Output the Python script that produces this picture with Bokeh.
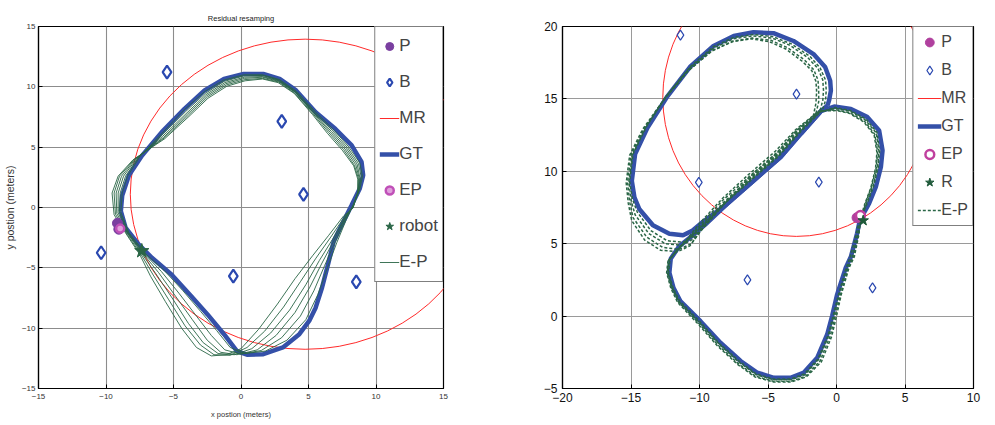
from bokeh.plotting import figure
from bokeh.layouts import row
from bokeh.models import Range1d, Legend, LegendItem, FixedTicker
from bokeh.embed import file_html
from bokeh.resources import INLINE

NAN = float("nan")

# ---------------- LEFT PANEL DATA ----------------
L_TICKS = [-15, -10, -5, 0, 5, 10, 15]
L_GT_X = [-8.9, -8.8, -8.3, -7.33, -5.87, -4.17, -2.7, -1.26, 0.2, 1.65, 2.86, 4.08, 5.53, 7.0, 8.2, 8.93, 9.05, 8.8, 8.2, 7.72,
          7.23, 6.87, 6.63, 6.38, 6.0, 5.53, 5.05, 4.32, 3.1, 1.65, 0.44, -0.3, -1.26, -2.48, -3.7, -5.15, -6.6, -7.57, -8.54, -8.9]
L_GT_Y = [-0.3, 1.0, 2.67, 4.3, 6.25, 8.2, 9.7, 10.66, 11.07, 11.07, 10.66, 9.7, 7.9, 6.5, 5.15, 3.77, 2.67, 1.57, 0.2, -0.87,
          -1.97, -2.8, -3.9, -5.0, -6.65, -8.3, -9.4, -10.5, -11.6, -12.16, -12.2, -11.9, -10.5, -8.86, -7.34, -5.55, -4.17, -3.07, -1.7, -0.3]

L_EP_X = [
    [-8.9, -8.8, -8.4, -7.5, -5.9, -4.2, -2.7, -1.3, 0.2, 1.6, 2.85, 4.1, 5.5, 6.9, 8.0, 8.8, 9.0, 8.8, 8.3, 7.8,
     7.1, 6.4, 5.7, 4.8, 3.4, 1.8, 0.3, -0.8, -1.8, -3.0, -4.3, -5.7, -7.0, -8.3, -8.9],
    [-9.0, -8.95, -8.55, -7.6, -5.85, -4.1, -2.65, -1.25, 0.2, 1.6, 2.85, 4.05, 5.45, 6.8, 7.9, 8.7, 8.9, 8.75, 8.3, 7.75,
     7.0, 6.2, 5.4, 4.4, 3.0, 1.5, 0.0, -1.2, -2.2, -3.3, -4.6, -5.9, -7.1, -8.35, -9.0],
    [-9.1, -9.1, -8.7, -7.7, -5.8, -4.0, -2.6, -1.2, 0.25, 1.6, 2.8, 4.0, 5.4, 6.7, 7.8, 8.6, 8.8, 8.7, 8.3, 7.7,
     6.9, 6.0, 5.1, 4.0, 2.6, 1.2, -0.3, -1.5, -2.5, -3.6, -4.85, -6.1, -7.2, -8.4, -9.1],
    [-9.2, -9.25, -8.85, -7.8, -5.75, -3.95, -2.55, -1.15, 0.25, 1.6, 2.8, 4.0, 5.4, 6.6, 7.7, 8.5, 8.75, 8.7, 8.3, 7.7,
     6.8, 5.8, 4.8, 3.6, 2.2, 0.8, -0.5, -1.7, -2.8, -3.9, -5.1, -6.3, -7.3, -8.4, -9.2],
    [-9.3, -9.4, -9.0, -7.9, -5.7, -3.9, -2.5, -1.1, 0.3, 1.6, 2.8, 3.95, 5.35, 6.5, 7.6, 8.4, 8.7, 8.65, 8.3, 7.65,
     6.65, 5.55, 4.4, 3.15, 1.75, 0.45, -0.8, -2.0, -3.0, -4.15, -5.35, -6.5, -7.4, -8.45, -9.3],
    [-9.4, -9.55, -9.1, -8.0, -5.65, -3.85, -2.45, -1.05, 0.3, 1.6, 2.75, 3.95, 5.3, 6.4, 7.5, 8.35, 8.65, 8.65, 8.3, 7.6,
     6.5, 5.3, 4.0, 2.7, 1.3, 0.0, -1.1, -2.2, -3.3, -4.4, -5.6, -6.7, -7.5, -8.5, -9.4],
]
L_EP_Y = [
    [-0.4, 1.2, 2.6, 4.2, 6.1, 8.1, 9.6, 10.55, 11.0, 11.0, 10.6, 9.65, 7.95, 6.4, 5.0, 3.7, 2.6, 1.5, 0.2, -1.0,
     -2.9, -5.0, -7.2, -9.3, -11.0, -11.9, -12.1, -11.6, -10.2, -8.6, -6.9, -5.2, -3.9, -2.1, -0.4],
    [-0.4, 1.2, 2.6, 4.15, 6.0, 7.95, 9.45, 10.45, 10.9, 10.95, 10.55, 9.6, 7.9, 6.35, 4.95, 3.65, 2.55, 1.45, 0.15, -0.95,
     -2.8, -4.8, -6.9, -9.0, -10.8, -11.85, -12.15, -11.8, -10.6, -9.0, -7.1, -5.3, -3.9, -2.1, -0.4],
    [-0.45, 1.2, 2.6, 4.1, 5.9, 7.85, 9.35, 10.35, 10.8, 10.85, 10.5, 9.6, 7.85, 6.3, 4.9, 3.6, 2.5, 1.4, 0.1, -0.9,
     -2.7, -4.6, -6.6, -8.7, -10.6, -11.8, -12.2, -12.0, -11.0, -9.3, -7.35, -5.4, -3.9, -2.1, -0.45],
    [-0.5, 1.2, 2.6, 4.05, 5.8, 7.75, 9.25, 10.25, 10.7, 10.8, 10.45, 9.55, 7.8, 6.25, 4.85, 3.55, 2.45, 1.35, 0.05, -0.85,
     -2.6, -4.4, -6.4, -8.5, -10.4, -11.7, -12.2, -12.1, -11.2, -9.6, -7.5, -5.5, -3.9, -2.15, -0.5],
    [-0.55, 1.2, 2.6, 4.0, 5.75, 7.65, 9.15, 10.15, 10.6, 10.7, 10.4, 9.5, 7.75, 6.2, 4.8, 3.5, 2.4, 1.3, 0.0, -0.8,
     -2.45, -4.2, -6.15, -8.25, -10.25, -11.6, -12.25, -12.2, -11.4, -9.8, -7.65, -5.6, -3.9, -2.2, -0.55],
    [-0.6, 1.2, 2.6, 3.95, 5.7, 7.55, 9.05, 10.05, 10.5, 10.65, 10.35, 9.45, 7.7, 6.15, 4.75, 3.45, 2.35, 1.25, -0.05, -0.7,
     -2.3, -4.0, -5.9, -8.0, -10.1, -11.7, -12.2, -12.3, -11.6, -10.0, -7.8, -5.7, -3.9, -2.2, -0.6],
]
L_B_X = [-5.48, 3.02, 4.63, -10.36, -0.57, 8.54]
L_B_Y = [11.22, 7.14, 1.08, -3.75, -5.68, -6.17]
L_P_X = [-9.15, -9.05]
L_P_Y = [-1.3, -1.8]
L_EPT_X = [-8.95]
L_EPT_Y = [-1.75]
L_ROBOT_X = [-7.35]
L_ROBOT_Y = [-3.6]
L_MR_CX, L_MR_CY, L_MR_W, L_MR_H = 4.75, 1.1, 25.9, 25.7

# ---------------- RIGHT PANEL DATA ----------------
R_XTICKS = [-20, -15, -10, -5, 0, 5, 10]
R_YTICKS = [-5, 0, 5, 10, 15, 20]
R_GT_A_X = [1.7, 1.5, 1.05, 0.66, 0.05, -0.32, -0.68, -1.41, -2.38, -3.36, -4.57, -5.8, -7.0, -8.47, -9.93, -11.4, -11.9, -12.2,
            -12.1, -11.5, -10.6, -9.6, -8.0, -6.06, -4.06, -2.6, -1.14, -0.17, 1.05, 2.26, 3.11, 3.36, 3.24, 2.87, 2.38, 1.7]
R_GT_A_Y = [6.6, 5.7, 4.1, 3.3, 1.5, 0.0, -1.27, -2.88, -3.9, -4.26, -4.26, -3.9, -3.1, -1.84, -0.35, 1.04, 1.96, 3.0,
            3.96, 4.8, 5.5, 6.3, 7.73, 9.34, 11.0, 12.6, 14.15, 14.47, 14.3, 13.74, 12.82, 11.44, 10.3, 8.92, 7.78, 6.6]
R_GT_B_X = [-0.66, -0.54, -0.41, -0.46, -0.83, -1.68, -3.14, -4.6, -6.06, -7.5, -8.98, -10.7, -12.4, -13.8, -14.7,
            -14.94, -14.75, -14.4, -13.4, -12.2, -11.2, -10.5, -9.77, -8.0, -6.06, -4.06, -2.6, -1.14, -0.66]
R_GT_B_Y = [14.54, 14.9, 15.57, 16.25, 17.2, 18.1, 19.0, 19.54, 19.6, 19.35, 18.66, 17.2, 15.1, 13.0, 11.2,
            9.34, 8.2, 7.4, 6.27, 5.69, 5.58, 5.92, 6.5, 7.73, 9.34, 11.0, 12.6, 14.15, 14.54]

R_EP_A_X = [
    [1.75, 1.55, 1.15, 0.75, 0.2, -0.2, -0.55, -1.3, -2.3, -3.3, -4.6, -5.85, -7.1, -8.6, -10.05, -11.5, -12.0, -12.3,
     -12.2, -11.6, -10.8, -9.8, -8.2, -6.25, -4.25, -2.75, -1.2, -0.1, 1.0, 2.1, 2.9, 3.1, 3.0, 2.65, 2.2, 1.75],
    [1.8, 1.6, 1.25, 0.85, 0.3, -0.1, -0.45, -1.2, -2.25, -3.3, -4.6, -5.9, -7.15, -8.65, -10.1, -11.55, -12.05, -12.35,
     -12.25, -11.65, -10.9, -9.9, -8.3, -6.35, -4.35, -2.85, -1.25, -0.05, 0.95, 2.05, 2.8, 3.0, 2.9, 2.55, 2.1, 1.8],
    [1.65, 1.45, 1.0, 0.7, 0.15, -0.25, -0.6, -1.35, -2.35, -3.35, -4.6, -5.85, -7.05, -8.55, -10.0, -11.45, -11.95, -12.25,
     -12.15, -11.55, -10.7, -9.7, -8.1, -6.15, -4.15, -2.7, -1.2, -0.1, 1.0, 2.15, 2.95, 3.15, 3.05, 2.7, 2.25, 1.65],
    [1.7, 1.65, 1.3, 0.9, 0.35, 0.0, -0.35, -1.1, -2.2, -3.3, -4.6, -5.95, -7.2, -8.7, -10.15, -11.6, -12.1, -12.4,
     -12.3, -11.7, -11.0, -10.0, -8.35, -6.45, -4.45, -2.95, -1.3, 0.0, 0.95, 2.0, 2.75, 2.95, 2.85, 2.5, 2.05, 1.7],
]
R_EP_A_Y = [
    [6.6, 5.7, 4.1, 3.3, 1.5, 0.0, -1.3, -3.0, -4.05, -4.4, -4.4, -4.05, -3.2, -1.9, -0.4, 1.0, 2.0, 3.0,
     3.9, 4.6, 5.3, 6.3, 7.9, 9.55, 11.2, 12.75, 14.1, 14.35, 14.15, 13.55, 12.65, 11.4, 10.3, 8.95, 7.8, 6.6],
    [6.6, 5.7, 4.1, 3.3, 1.5, 0.0, -1.35, -3.1, -4.15, -4.5, -4.5, -4.15, -3.3, -2.0, -0.45, 1.0, 2.0, 3.0,
     3.85, 4.5, 5.25, 6.35, 8.0, 9.65, 11.3, 12.85, 14.15, 14.25, 14.05, 13.45, 12.55, 11.35, 10.25, 8.9, 7.75, 6.6],
    [6.6, 5.7, 4.1, 3.3, 1.5, 0.0, -1.3, -2.95, -4.0, -4.35, -4.35, -4.0, -3.15, -1.9, -0.35, 1.05, 2.0, 3.0,
     3.95, 4.7, 5.4, 6.3, 7.85, 9.5, 11.15, 12.7, 14.1, 14.4, 14.2, 13.6, 12.7, 11.4, 10.3, 8.95, 7.8, 6.6],
    [6.6, 5.7, 4.1, 3.3, 1.5, 0.0, -1.4, -3.15, -4.2, -4.55, -4.55, -4.2, -3.35, -2.05, -0.5, 0.95, 1.95, 3.0,
     3.8, 4.45, 5.2, 6.4, 8.1, 9.75, 11.4, 12.9, 14.15, 14.2, 14.0, 13.4, 12.5, 11.3, 10.2, 8.85, 7.7, 6.6],
]
R_EP_B_X = [
    [-1.2, -1.0, -0.95, -1.0, -1.35, -2.1, -3.4, -4.7, -6.1, -7.5, -9.0, -10.75, -12.5, -13.95, -14.9,
     -15.15, -15.0, -14.7, -13.7, -12.5, -11.3, -10.5, -9.8, -8.1, -6.2, -4.2, -2.75, -1.2],
    [-1.5, -1.3, -1.3, -1.35, -1.65, -2.35, -3.6, -4.8, -6.15, -7.55, -9.05, -10.8, -12.55, -14.05, -15.0,
     -15.25, -15.1, -14.85, -13.85, -12.7, -11.5, -10.6, -9.85, -8.15, -6.3, -4.3, -2.85, -1.5],
    [-1.0, -0.8, -0.75, -0.8, -1.2, -1.95, -3.3, -4.65, -6.05, -7.5, -9.0, -10.7, -12.45, -13.9, -14.85,
     -15.1, -14.9, -14.55, -13.55, -12.35, -11.2, -10.45, -9.75, -8.05, -6.15, -4.15, -2.7, -1.0],
    [-1.7, -1.5, -1.45, -1.5, -1.8, -2.5, -3.7, -4.9, -6.2, -7.6, -9.1, -10.9, -12.6, -14.15, -15.1,
     -15.35, -15.2, -14.95, -14.0, -12.85, -11.6, -10.7, -9.9, -8.2, -6.35, -4.35, -2.95, -1.7],
]
R_EP_B_Y = [
    [14.2, 14.9, 15.6, 16.3, 17.1, 17.85, 18.7, 19.2, 19.35, 19.15, 18.5, 17.1, 15.1, 13.0, 11.2,
     9.3, 8.0, 7.0, 5.7, 5.0, 4.9, 5.3, 6.1, 7.85, 9.5, 11.15, 12.7, 14.2],
    [14.0, 14.8, 15.6, 16.3, 17.0, 17.7, 18.55, 19.05, 19.2, 19.0, 18.35, 16.95, 15.0, 12.95, 11.15,
     9.25, 7.9, 6.8, 5.45, 4.75, 4.6, 5.0, 5.95, 7.8, 9.55, 11.2, 12.75, 14.0],
    [14.3, 14.9, 15.6, 16.3, 17.15, 17.95, 18.8, 19.3, 19.45, 19.25, 18.6, 17.2, 15.15, 13.05, 11.2,
     9.3, 8.1, 7.2, 5.9, 5.2, 5.1, 5.5, 6.3, 7.9, 9.45, 11.1, 12.65, 14.3],
    [13.8, 14.7, 15.5, 16.2, 16.95, 17.6, 18.45, 18.95, 19.15, 18.95, 18.3, 16.9, 14.95, 12.9, 11.1,
     9.2, 7.8, 6.6, 5.25, 4.55, 4.45, 4.85, 5.9, 7.75, 9.6, 11.25, 12.8, 13.8],
]
R_B_X = [-11.39, -2.92, -10.05, -1.29, -6.5, 2.63]
R_B_Y = [19.4, 15.33, 9.23, 9.25, 2.5, 1.95]
R_P_X = [1.5]
R_P_Y = [6.8]
R_EPT_X = [1.75]
R_EPT_Y = [6.95]
R_R_X = [1.95]
R_R_Y = [6.6]
R_MR_CX, R_MR_CY, R_MR_W, R_MR_H = -2.93, 15.1, 19.5, 19.2

# ---------------- STYLE ----------------
BLUE = "#3450a8"
GREEN = "#2a6646"
RED = "#ff2a2a"
SANS = "Liberation Sans"


def style_axes(p, xt, yt, size, color):
    p.xaxis.ticker = FixedTicker(ticks=xt)
    p.yaxis.ticker = FixedTicker(ticks=yt)
    for ax in (p.xaxis, p.yaxis):
        ax.major_label_text_font = SANS
        ax.major_label_text_font_size = size
        ax.major_label_text_color = color
        ax.major_tick_in = 4
        ax.major_tick_out = 0
        ax.minor_tick_line_color = None
        ax.axis_line_color = "black"
        ax.axis_line_width = 1.2
        ax.major_tick_line_color = "black"
        ax.axis_label_text_font = SANS
        ax.axis_label_text_font_style = "normal"
        ax.axis_label_text_color = "#333333"
    p.grid.grid_line_color = "#8c8c8c"
    p.grid.grid_line_width = 1.1
    p.outline_line_color = "black"
    p.outline_line_width = 1.2
    p.outline_line_alpha = 1.0


# ---------------- LEFT FIGURE ----------------
p1 = figure(width=500, height=425, x_range=Range1d(-15, 15), y_range=Range1d(-15, 15),
            title="Residual resamping", output_backend="svg", toolbar_location=None,
            min_border_left=32, min_border_right=57, min_border_top=25, min_border_bottom=37)
p1.title.text_font = SANS
p1.title.text_font_size = "7.5px"
p1.title.text_font_style = "normal"
p1.title.text_color = "#222222"
p1.title.align = "center"
p1.title.vertical_align = "top"
p1.title.standoff = 4
style_axes(p1, L_TICKS, L_TICKS, "8px", "#333333")
p1.xaxis.axis_label = "x postion (meters)"
p1.xaxis.axis_label_text_font_size = "7.5px"
p1.xaxis.axis_label_standoff = 8
p1.xaxis.major_label_standoff = 5
p1.yaxis.axis_label = "y postion (meters)"
p1.yaxis.axis_label_text_font_size = "10.5px"
p1.yaxis.axis_label_standoff = 3
p1.yaxis.major_label_standoff = 3

p1.ellipse(x=[L_MR_CX], y=[L_MR_CY], width=[L_MR_W], height=[L_MR_H],
           fill_color=None, line_color=RED, line_width=1)
l_mr = p1.line(x=[NAN], y=[NAN], line_color=RED, line_width=1)
l_gt = p1.line(L_GT_X, L_GT_Y, line_color=BLUE, line_width=4.5)
l_ep = p1.multi_line(xs=L_EP_X, ys=L_EP_Y, line_color=GREEN, line_width=1.0, line_alpha=0.9)
l_b = p1.scatter(L_B_X, L_B_Y, marker="diamond", size=13, fill_color="white",
                 line_color="#2a48b0", line_width=2.2)
l_p = p1.scatter(L_P_X, L_P_Y, marker="circle", size=10, fill_color="#7a3fa0", line_color="#7a3fa0")
l_ept = p1.scatter(L_EPT_X, L_EPT_Y, marker="circle", size=8, fill_color="#e0a0dc",
                   line_color="#c050b8", line_width=2.5)
l_rob = p1.scatter(L_ROBOT_X, L_ROBOT_Y, marker="star", size=15, fill_color=GREEN, line_color=GREEN)

leg1 = Legend(items=[
    LegendItem(label="P", renderers=[l_p]),
    LegendItem(label="B", renderers=[l_b]),
    LegendItem(label="MR", renderers=[l_mr]),
    LegendItem(label="GT", renderers=[l_gt]),
    LegendItem(label="EP", renderers=[l_ept]),
    LegendItem(label="robot", renderers=[l_rob]),
    LegendItem(label="E-P", renderers=[l_ep]),
], location="top_right", margin=0, padding=4, spacing=6, glyph_width=20, glyph_height=30,
    label_height=30, label_standoff=0, label_text_font=SANS, label_text_font_size="17px",
    border_line_color="black", border_line_width=1.5, background_fill_alpha=1.0)
p1.add_layout(leg1)

# ---------------- RIGHT FIGURE ----------------
p2 = figure(width=495, height=425, x_range=Range1d(-20, 10), y_range=Range1d(-5, 20),
            output_backend="svg", toolbar_location=None,
            min_border_left=62, min_border_right=22, min_border_top=26, min_border_bottom=37)
style_axes(p2, R_XTICKS, R_YTICKS, "12px", "#111111")
p2.grid.grid_line_color = "#9a9a9a"
p2.grid.grid_line_width = 1.0
p2.xaxis.major_label_standoff = 4
p2.yaxis.major_label_standoff = 5

p2.ellipse(x=[R_MR_CX], y=[R_MR_CY], width=[R_MR_W], height=[R_MR_H],
           fill_color=None, line_color=RED, line_width=1)
r_mr = p2.line(x=[NAN], y=[NAN], line_color=RED, line_width=1)
r_gt = p2.line(R_GT_A_X, R_GT_A_Y, line_color=BLUE, line_width=4.5)
p2.line(R_GT_B_X, R_GT_B_Y, line_color=BLUE, line_width=4.5)
r_ep = p2.multi_line(xs=R_EP_A_X, ys=R_EP_A_Y, line_color=GREEN, line_width=1.5, line_dash="3 2")
p2.multi_line(xs=R_EP_B_X, ys=R_EP_B_Y, line_color=GREEN, line_width=1.5, line_dash="3 2")
r_b = p2.scatter(R_B_X, R_B_Y, marker="diamond", size=10, fill_color="white",
                 line_color="#2a48b0", line_width=1.2)
r_p = p2.scatter(R_P_X, R_P_Y, marker="circle", size=10, fill_color="#b0409e", line_color="#b0409e")
r_ept = p2.scatter(R_EPT_X, R_EPT_Y, marker="circle", size=9, fill_color="white",
                   line_color="#c0409e", line_width=2.5)
r_r = p2.scatter(R_R_X, R_R_Y, marker="star", size=11, fill_color="#1f5a3a", line_color="#1f5a3a")

leg2 = Legend(items=[
    LegendItem(label="P", renderers=[r_p]),
    LegendItem(label="B", renderers=[r_b]),
    LegendItem(label="MR", renderers=[r_mr]),
    LegendItem(label="GT", renderers=[r_gt]),
    LegendItem(label="EP", renderers=[r_ept]),
    LegendItem(label="R", renderers=[r_r]),
    LegendItem(label="E-P", renderers=[r_ep]),
], location="top_right", margin=0, padding=4, spacing=6, glyph_width=24, glyph_height=22,
    label_height=22, label_standoff=0, label_text_font=SANS, label_text_font_size="16px",
    border_line_color="black", border_line_width=1.5, background_fill_alpha=1.0)
p2.add_layout(leg2)

layout = row(p1, p2)
open("out.html", "w").write(file_html(layout, INLINE))
